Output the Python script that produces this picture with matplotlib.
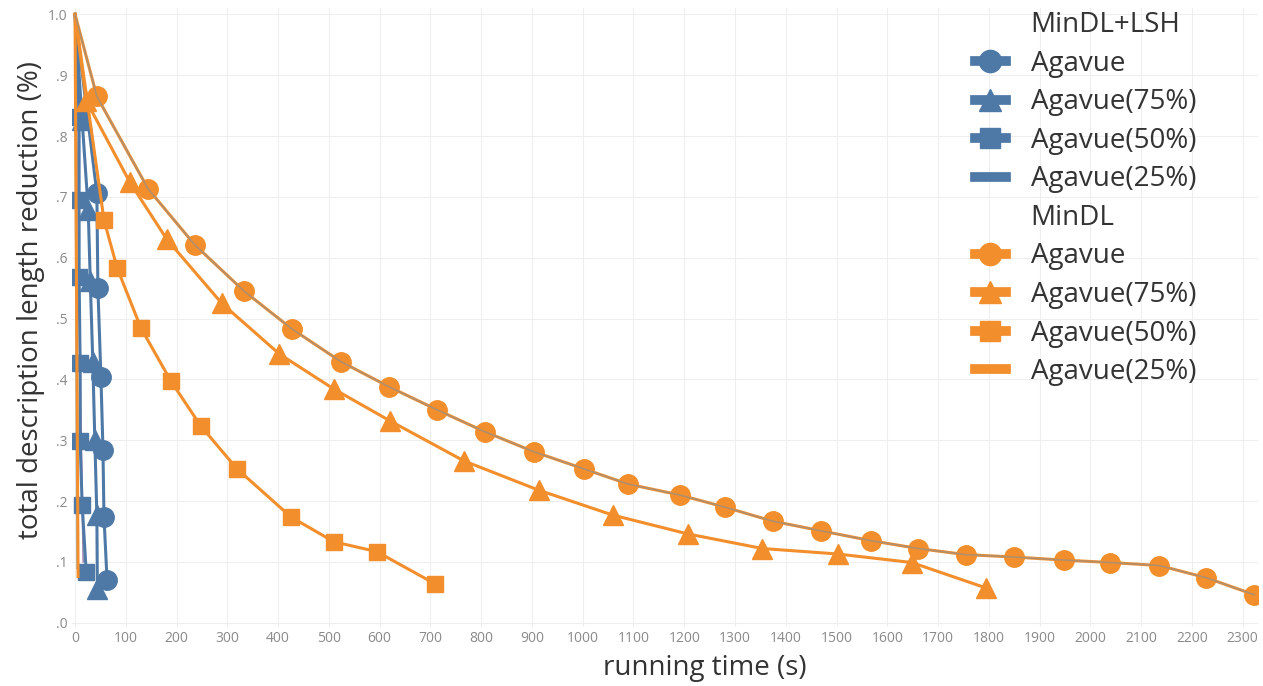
import matplotlib.pyplot as plt
from matplotlib.lines import Line2D
from matplotlib.ticker import FuncFormatter

BLUE = "#4e79a7"
ORANGE = "#f28e2b"

# MinDL+LSH (blue)
lsh_full_x = [0, 43, 45, 51, 55, 57, 63]
lsh_full_y = [1.0, 0.706, 0.55, 0.404, 0.284, 0.174, 0.071]
lsh_75_x = [0, 14, 26, 30, 35, 39, 43, 44]
lsh_75_y = [1.0, 0.826, 0.678, 0.562, 0.429, 0.300, 0.177, 0.056]
lsh_50_x = [0, 8, 8, 8, 10, 10, 14, 22]
lsh_50_y = [1.0, 0.832, 0.695, 0.568, 0.427, 0.299, 0.194, 0.084]
lsh_25_x = [0, 4]
lsh_25_y = [1.0, 0.09]

# MinDL (orange)
mdl_full_x = [0, 43, 144, 236, 333, 427, 524, 618, 713, 807, 904, 1002, 1089,
              1191, 1280, 1374, 1470, 1567, 1661, 1754, 1850, 1947, 2039, 2136,
              2228, 2323]
mdl_full_y = [1.0, 0.865, 0.713, 0.621, 0.545, 0.483, 0.429, 0.388, 0.350,
              0.314, 0.281, 0.253, 0.228, 0.210, 0.190, 0.167, 0.151, 0.135,
              0.122, 0.112, 0.108, 0.103, 0.099, 0.094, 0.074, 0.046]
mdl_75_x = [0, 22, 108, 181, 289, 402, 510, 620, 766, 913, 1059, 1207, 1354,
            1502, 1648, 1795]
mdl_75_y = [1.0, 0.858, 0.724, 0.630, 0.525, 0.442, 0.384, 0.332, 0.266,
            0.218, 0.177, 0.146, 0.122, 0.113, 0.099, 0.057]
mdl_50_x = [0, 57, 83, 130, 189, 248, 319, 425, 510, 594, 709]
mdl_50_y = [1.0, 0.662, 0.583, 0.484, 0.397, 0.323, 0.253, 0.174, 0.133,
            0.117, 0.064]
mdl_25_x = [0, 6]
mdl_25_y = [1.0, 0.076]

# unlabelled faint series near the y axis
other_x = [0, 16]
other_y = [1.0, 0.10]

x_ticks = list(range(0, 2400, 100))
y_ticks = [i / 10 for i in range(11)]

plt.rcParams["font.family"] = ["Open Sans", "DejaVu Sans"]

fig = plt.figure(figsize=(12.63, 6.86), dpi=100)
ax = fig.add_axes([0.057, 0.086, 0.939, 0.902])

lw = 2.2
ax.plot(other_x, other_y, color="#8c6d9e", lw=1.2, alpha=0.8)
ax.plot(lsh_25_x, lsh_25_y, color="#9fc3d6", lw=1.5)

ax.plot(lsh_50_x, lsh_50_y, color=BLUE, lw=lw, marker="s", ms=12,
        markevery=list(range(1, len(lsh_50_x))))
ax.plot(lsh_75_x, lsh_75_y, color=BLUE, lw=lw, marker="^", ms=14,
        markevery=list(range(1, len(lsh_75_x))))
ax.plot(lsh_full_x, lsh_full_y, color=BLUE, lw=lw, marker="o", ms=14,
        markevery=list(range(1, len(lsh_full_x))))

ax.plot(mdl_25_x, mdl_25_y, color=ORANGE, lw=lw)
ax.plot(mdl_50_x, mdl_50_y, color=ORANGE, lw=lw, marker="s", ms=12,
        markevery=list(range(1, len(mdl_50_x))))
ax.plot(mdl_75_x, mdl_75_y, color=ORANGE, lw=lw, marker="^", ms=14,
        markevery=list(range(1, len(mdl_75_x))))
ax.plot(mdl_full_x, mdl_full_y, color=ORANGE, lw=lw, marker="o", ms=14,
        markevery=list(range(1, len(mdl_full_x))))
ax.plot(mdl_full_x, mdl_full_y, color="#7d8fa3", lw=1.2, alpha=0.55)

ax.set_xlim(-6, 2330)
ax.set_ylim(-0.007, 1.01)
ax.set_xticks(x_ticks)
ax.set_yticks(y_ticks)


def yfmt(v, pos):
    s = f"{v:.1f}"
    return s if v >= 1 else s[1:]


ax.yaxis.set_major_formatter(FuncFormatter(yfmt))
ax.tick_params(length=0, labelsize=10, labelcolor="#8a8a8a", pad=3)
ax.grid(True, color="#eeeeee", lw=0.8)
ax.set_axisbelow(True)
for sp in ax.spines.values():
    sp.set_visible(False)

ax.set_xlabel("running time (s)", fontsize=20, color="#333333")
ax.set_ylabel("total description length reduction (%)", fontsize=20,
              color="#333333")
ax.xaxis.set_label_coords(0.534, -0.043)
ax.yaxis.set_label_coords(-0.023, 0.528)


def entry(color, marker, ms, label):
    return Line2D([], [], color=color, lw=7, marker=marker, ms=ms, label=label)


handles = [
    Line2D([], [], color="none", label="MinDL+LSH"),
    entry(BLUE, "o", 16, "Agavue"),
    entry(BLUE, "^", 16, "Agavue(75%)"),
    entry(BLUE, "s", 15, "Agavue(50%)"),
    entry(BLUE, None, 0, "Agavue(25%)"),
    Line2D([], [], color="none", label="MinDL"),
    entry(ORANGE, "o", 16, "Agavue"),
    entry(ORANGE, "^", 16, "Agavue(75%)"),
    entry(ORANGE, "s", 15, "Agavue(50%)"),
    entry(ORANGE, None, 0, "Agavue(25%)"),
]
fig.legend(handles=handles, loc="upper left", bbox_to_anchor=(0.761, 1.004),
           frameon=False, fontsize=20, handlelength=1.1, handletextpad=0.9,
           labelspacing=0.38, borderpad=0, labelcolor="#333333")

fig.savefig("out.png", dpi=100)
